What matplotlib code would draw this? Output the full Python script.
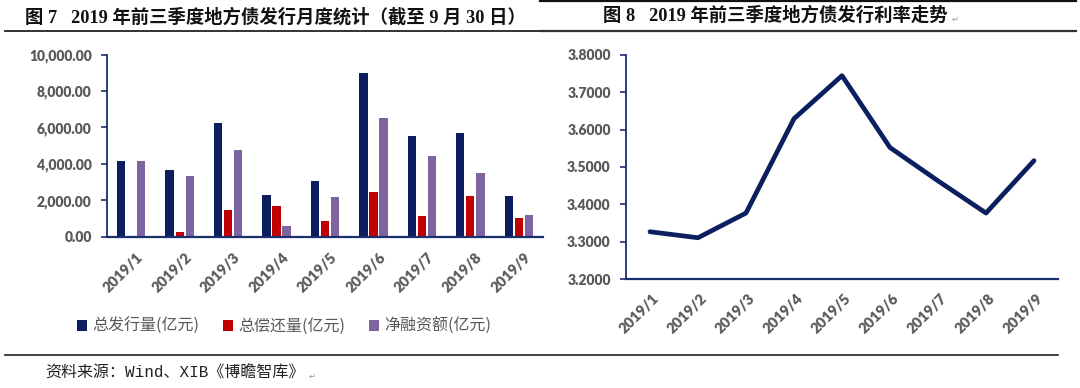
import matplotlib
matplotlib.use("Agg")
import matplotlib.pyplot as plt
from matplotlib.lines import Line2D
from matplotlib.ticker import FuncFormatter
from matplotlib.transforms import ScaledTranslation
import numpy as np

# ---------------- data ----------------
months = ["2019/1", "2019/2", "2019/3", "2019/4", "2019/5", "2019/6", "2019/7", "2019/8", "2019/9"]
issuance = [4176, 3663, 6264, 2271, 3040, 9011, 5531, 5678, 2216]      # 总发行量(亿元)
repayment = [0, 238, 1484, 1703, 861, 2473, 1136, 2216, 1007]          # 总偿还量(亿元)
net_financing = [4176, 3352, 4744, 604, 2161, 6520, 4451, 3516, 1190]  # 净融资额(亿元)
rates = [3.327, 3.311, 3.377, 3.629, 3.744, 3.552, 3.463, 3.377, 3.517]  # 发行利率

series_names = ["总发行量(亿元)", "总偿还量(亿元)", "净融资额(亿元)"]
left_yticks = [0, 2000, 4000, 6000, 8000, 10000]
right_yticks = [3.2, 3.3, 3.4, 3.5, 3.6, 3.7, 3.8]

title_left = "图 7   2019 年前三季度地方债发行月度统计（截至 9 月 30 日）"
title_right = "图 8   2019 年前三季度地方债发行利率走势"
source_text = "资料来源：Wind、XIB《博瞻智库》"

# ---------------- style ----------------
NAVY = "#0b1f5e"
RED = "#c00000"
PURPLE = "#8064a2"
AXIS = "#1a2f6e"
GRAY = "#595959"
LATIN = ["Lato", "Noto Sans CJK SC", "DejaVu Sans"]
CJK = ["Noto Sans CJK SC", "DejaVu Sans"]
SERIF_CJK = ["Liberation Serif", "Noto Sans CJK SC", "DejaVu Sans"]

plt.rcParams["font.family"] = CJK

W, H = 1080, 388
fig = plt.figure(figsize=(W / 100, H / 100), dpi=100)


def rect(x0, x1, ytop, ybot):
    return [x0 / W, 1 - ybot / H, (x1 - x0) / W, (ybot - ytop) / H]


def style_axes(ax, dx, pad):
    for s in ["top", "right"]:
        ax.spines[s].set_visible(False)
    ax.spines["left"].set_color(AXIS)
    ax.spines["bottom"].set_color(AXIS)
    ax.spines["left"].set_linewidth(1.3)
    ax.spines["bottom"].set_linewidth(1.6)
    ax.tick_params(axis="y", direction="out", length=4, width=1.2, color=AXIS, pad=7)
    ax.tick_params(axis="x", length=0, pad=pad)
    for lab in ax.get_yticklabels():
        lab.set_fontfamily(LATIN)
        lab.set_fontweight("heavy")
        lab.set_fontsize(10)
        lab.set_color(GRAY)
    shift = ScaledTranslation(dx / 100, 0, fig.dpi_scale_trans)
    for lab in ax.get_xticklabels():
        lab.set_fontfamily(LATIN)
        lab.set_fontweight("heavy")
        lab.set_fontsize(10.5)
        lab.set_color(GRAY)
        lab.set_rotation(45)
        lab.set_ha("right")
        lab.set_va("top")
        lab.set_rotation_mode("anchor")
        lab.set_transform(lab.get_transform() + shift)


# ---------------- left chart ----------------
ax1 = fig.add_axes(rect(107, 543, 54.7, 236.7))
x = np.arange(len(months))
bw = 0.172
off = 0.207
colors = [NAVY, RED, PURPLE]
for i, (vals, c, name) in enumerate(zip([issuance, repayment, net_financing], colors, series_names)):
    ax1.bar(x + (i - 1) * off, vals, width=bw, color=c, label=name, edgecolor="none")
ax1.set_xlim(-0.5, len(months) - 0.5)
ax1.set_ylim(0, 10000)
ax1.set_yticks(left_yticks)
ax1.yaxis.set_major_formatter(FuncFormatter(lambda v, p: f"{v:,.2f}"))
ax1.set_xticks(x)
ax1.set_xticklabels(months)
style_axes(ax1, dx=5, pad=10)

leg = ax1.legend(loc="center", bbox_to_anchor=(284 / W, 1 - 326.5 / H),
                 bbox_transform=fig.transFigure, ncol=3, frameon=False,
                 handlelength=0.65, handleheight=0.65, handletextpad=0.3, columnspacing=1.5,
                 prop={"family": CJK, "size": 11.5, "weight": "medium"})
for t in leg.get_texts():
    t.set_color(GRAY)

# ---------------- right chart ----------------
ax2 = fig.add_axes(rect(626, 1058, 54.7, 279.3))
ax2.plot(x, rates, color=NAVY, lw=3.4, solid_joinstyle="round", solid_capstyle="round")
ax2.set_xlim(-0.5, len(months) - 0.5)
ax2.set_ylim(3.2, 3.8)
ax2.set_yticks(right_yticks)
ax2.yaxis.set_major_formatter(FuncFormatter(lambda v, p: f"{v:.4f}"))
ax2.set_xticks(x)
ax2.set_xticklabels(months)
style_axes(ax2, dx=2, pad=9)

# ---------------- titles, rules, source ----------------
fig.text(25 / W, 1 - 17 / H, title_left, family=SERIF_CJK, fontsize=13.2,
         fontweight="bold", ha="left", va="center", color="#111111")
t2 = fig.text(603 / W, 1 - 16 / H, title_right, family=SERIF_CJK, fontsize=13.2,
              fontweight="bold", ha="left", va="center", color="#111111")
src = fig.text(45 / W, 1 - 373 / H, source_text,
               family=["Liberation Mono", "Noto Sans CJK SC", "DejaVu Sans"],
               fontsize=11.5, ha="left", va="center", color="#222222")

fig.canvas.draw()
r = fig.canvas.get_renderer()
for t, dy in [(t2, 19), (src, 376)]:
    bb = t.get_window_extent(renderer=r)
    fig.text((bb.x1 + 4) / W, 1 - dy / H, "↵", family=["DejaVu Sans"], fontsize=6,
             ha="left", va="center", color="#999999")


def hline(y, x0, x1, lw=1.2, color="#222222"):
    fig.add_artist(Line2D([x0 / W, x1 / W], [1 - y / H, 1 - y / H],
                          transform=fig.transFigure, color=color, lw=lw))


hline(30.5, 5, 540, lw=1.3)
hline(0.8, 540, 1076, lw=1.6, color="#111111")
hline(31, 540, 1076, lw=1.6, color="#333333")
hline(355, 5, 1058, lw=1.2)

fig.savefig("out.png", dpi=100)
